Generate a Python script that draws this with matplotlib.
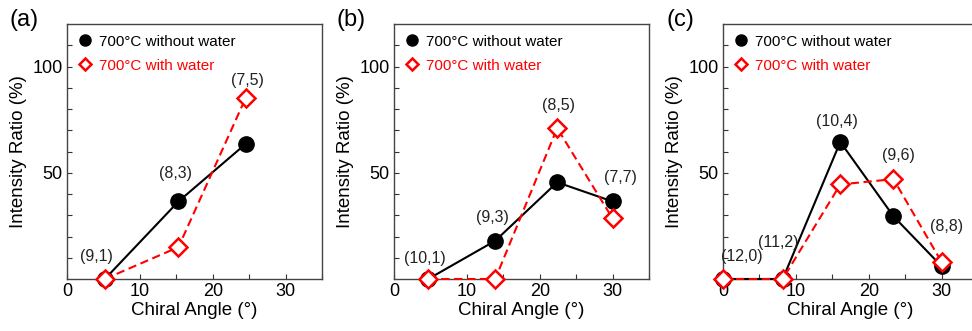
import numpy as np
import matplotlib
matplotlib.use("Agg")
import matplotlib.pyplot as plt
from matplotlib.lines import Line2D

plt.rcParams['font.family'] = ['Liberation Sans', 'DejaVu Sans']

# chirality labels and chiral angles for each panel
labels_a = ["(9,1)", "(8,3)", "(7,5)"]
angle_a = [5.2, 15.3, 24.5]
dry_a = [0, 36.5, 63.5]
wet_a = [0, 15, 85]

labels_b = ["(10,1)", "(9,3)", "(8,5)", "(7,7)"]
angle_b = [4.7, 13.9, 22.4, 30.0]
dry_b = [0, 18, 45.5, 36.5]
wet_b = [0, 0, 71, 28.5]

labels_c = ["(12,0)", "(11,2)", "(10,4)", "(9,6)", "(8,8)"]
angle_c = [0.0, 8.2, 16.1, 23.4, 30.0]
dry_c = [0, 0, 64.5, 29.5, 6]
wet_c = [0, 0, 44.5, 47, 8]

# label offsets in pixels from the highest point at each angle
off_a = [(-8, 22), (-3, 28), (2, 18)]
off_b = [(-3, 20), (-3, 23), (1, 23), (8, 24)]
off_c = [(19, 22), (-4, 36), (-3, 20), (5, 24), (5, 35)]

panels = [("(a)", labels_a, angle_a, dry_a, wet_a, off_a),
          ("(b)", labels_b, angle_b, dry_b, wet_b, off_b),
          ("(c)", labels_c, angle_c, dry_c, wet_c, off_c)]

fig = plt.figure(figsize=(9.72, 3.31), dpi=100)
lefts = [67, 394, 723]
W, H = 972., 331.

for i, (left, (tag, labs, ang, dry, wet, offs)) in enumerate(zip(lefts, panels)):
    ax = fig.add_axes([left / W, 52 / H, 255 / W, 255 / H])
    ax.plot(ang, dry, color='black', lw=1.5, marker='o', ms=11,
            mfc='black', mec='black', zorder=3, clip_on=False)
    ax.plot(ang, wet, color='red', lw=1.5, ls=(0, (4, 2.2)), marker='D', ms=8.8,
            mfc='white', mec='red', mew=1.8, zorder=4, clip_on=False)

    for lab, x, y1, y2, (dx, dy) in zip(labs, ang, dry, wet, offs):
        ax.annotate(lab, (x, max(y1, y2)), xytext=(dx, dy),
                    textcoords='offset pixels', ha='center', va='center',
                    fontsize=11.5, color='#222222')

    ax.set_xlim(0, 35)
    ax.set_ylim(0, 120)
    ax.set_xticks([0, 10, 20, 30])
    ax.set_xticks(np.arange(0, 36, 5), minor=True)
    ax.set_yticks([50, 100])
    ax.set_yticks(np.arange(10, 120, 10), minor=True)
    ax.tick_params(which='both', direction='in', length=3.5, width=0.8,
                   color='#333333', labelsize=13, pad=3)
    for sp in ax.spines.values():
        sp.set_color('#444444')
        sp.set_linewidth(1.0)
    if i == 2:
        # last panel runs off the right edge of the figure
        ax.spines['right'].set_visible(False)
    ax.set_xlabel("Chiral Angle (°)", fontsize=13.5, labelpad=1)
    ax.set_ylabel("Intensity Ratio (%)", fontsize=13.5, labelpad=4)

    handles = [Line2D([], [], ls='none', marker='o', ms=8, mfc='black', mec='black'),
               Line2D([], [], ls='none', marker='D', ms=6.5, mfc='white',
                      mec='red', mew=1.8)]
    leg = ax.legend(handles, ["700°C without water", "700°C with water"],
                    loc='upper left', bbox_to_anchor=(0.0, 1.0), frameon=False,
                    fontsize=11, handlelength=1.0, handletextpad=0.4,
                    labelspacing=0.65, borderaxespad=0.3)
    leg.get_texts()[1].set_color('red')

    fig.text((left - 43) / W, 1 - 20 / H, tag, fontsize=17, ha='center', va='center')

fig.savefig("out.png", dpi=100)
